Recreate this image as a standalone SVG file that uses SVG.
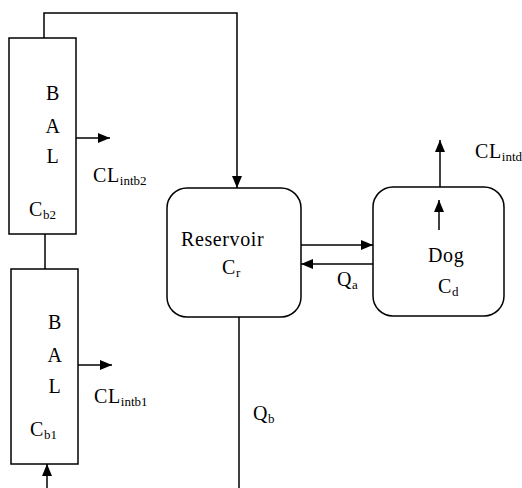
<svg xmlns="http://www.w3.org/2000/svg" width="522" height="488" viewBox="0 0 522 488">
<defs>
<marker id="ah" markerUnits="userSpaceOnUse" markerWidth="13" markerHeight="11" refX="12" refY="5" orient="auto">
<path d="M0,0 L12,5 L0,10 z" fill="#000"/>
</marker>
<style>
.box{fill:#fff;stroke:#000;stroke-width:1.5}
.ln{fill:none;stroke:#000;stroke-width:1.5}
.ar{fill:none;stroke:#000;stroke-width:1.5;marker-end:url(#ah)}
text{font-family:"Liberation Serif","Times New Roman",serif;font-size:20px;fill:#000;letter-spacing:0.6px}
.c{text-anchor:middle}
.s{font-size:13px;letter-spacing:0}
</style>
</defs>
<rect width="522" height="488" fill="#fff"/>
<g id="bal2">
<rect class="box" x="9" y="38" width="67" height="196"/>
<text class="c" x="53" y="100">B</text>
<text class="c" x="53" y="133">A</text>
<text class="c" x="53" y="163">L</text>
<text x="29" y="216">C<tspan class="s" dy="3">b2</tspan></text>
</g>
<g id="bal1">
<rect class="box" x="11" y="269" width="67" height="195"/>
<text class="c" x="55" y="329">B</text>
<text class="c" x="55" y="362">A</text>
<text class="c" x="55" y="393">L</text>
<text x="30" y="436">C<tspan class="s" dy="3">b1</tspan></text>
</g>
<g id="reservoir">
<rect class="box" x="167" y="188" width="134" height="129" rx="20" ry="20"/>
<text x="181" y="246">Reservoir</text>
<text x="222" y="274">C<tspan class="s" dy="3">r</tspan></text>
</g>
<g id="dog">
<rect class="box" x="373" y="187" width="131" height="129" rx="20" ry="20"/>
<text x="428" y="262">Dog</text>
<text x="438" y="293">C<tspan class="s" dy="3">d</tspan></text>
</g>
<g id="labels">
<text x="93" y="182">CL<tspan class="s" dy="3">intb2</tspan></text>
<text x="94" y="403">CL<tspan class="s" dy="3">intb1</tspan></text>
<text x="475" y="158">CL<tspan class="s" dy="3">intd</tspan></text>
<text x="337" y="286">Q<tspan class="s" dy="3">a</tspan></text>
<text x="253" y="420">Q<tspan class="s" dy="3">b</tspan></text>
</g>
<g id="connectors">
<path class="ar" d="M44,38 V13 H237 V188"/>
<path class="ln" d="M45,234 V269"/>
<path class="ar" d="M47,488 V464"/>
<path class="ar" d="M76,138 H110"/>
<path class="ar" d="M78,365 H112"/>
<path class="ar" d="M301,245 H373"/>
<path class="ar" d="M373,264 H301"/>
<path class="ln" d="M239,317 V488"/>
<path class="ar" d="M440,187 V140"/>
<path class="ar" d="M439,230 V200"/>
</g>
</svg>
